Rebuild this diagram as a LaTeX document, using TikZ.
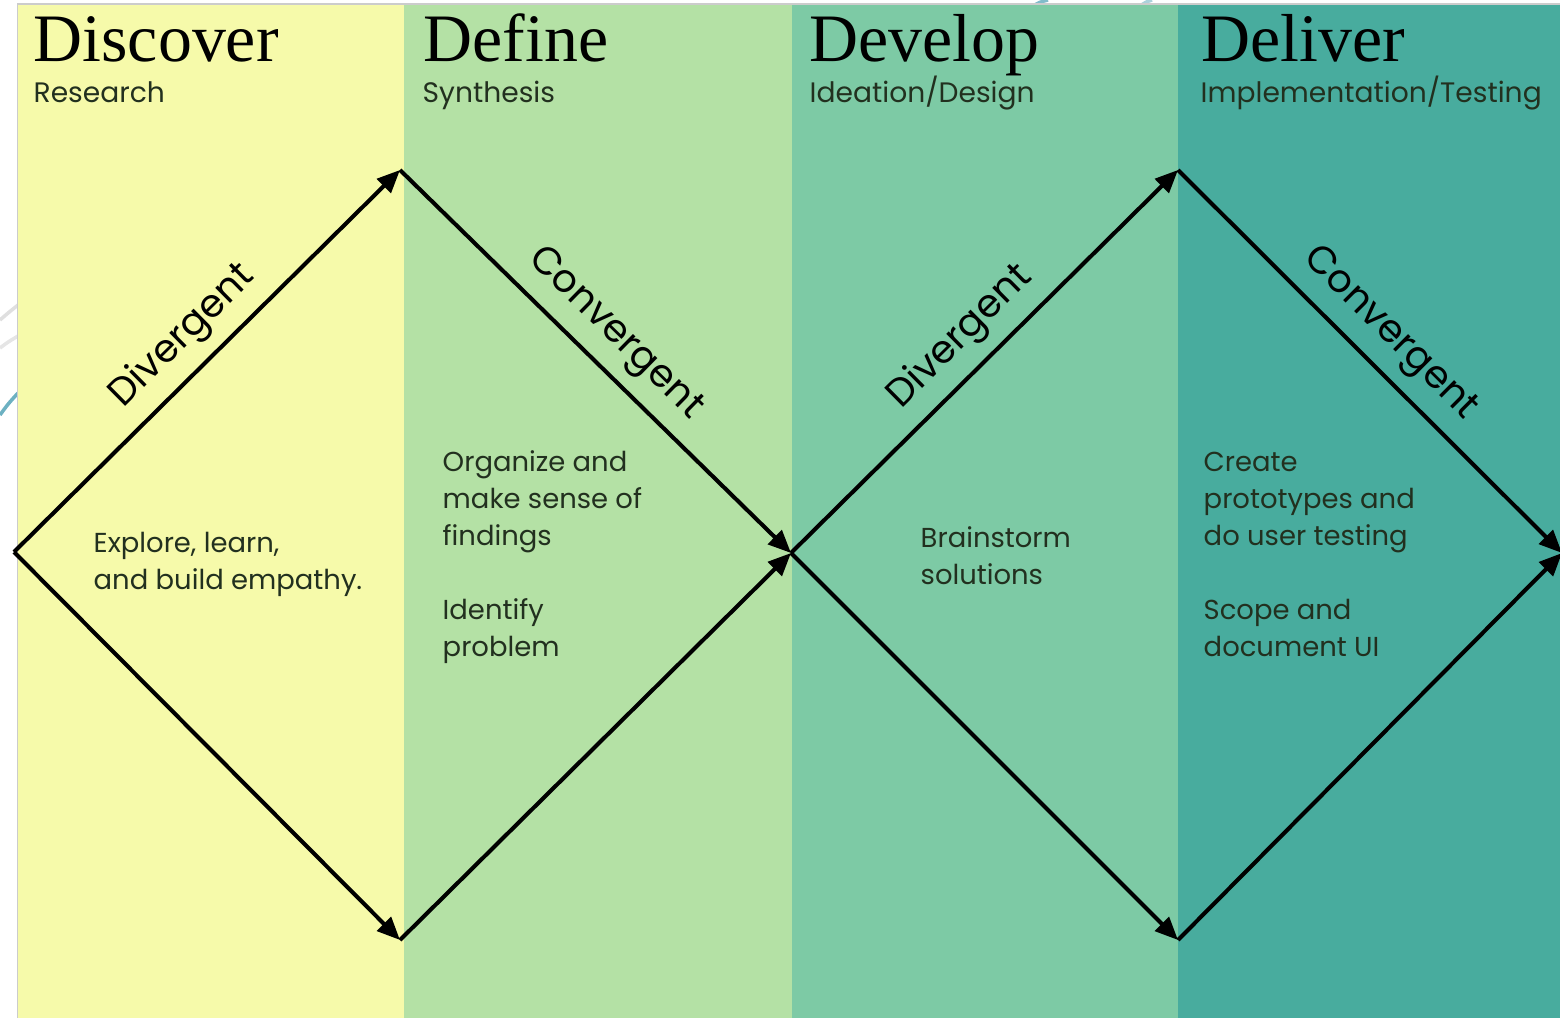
\documentclass[tikz,border=0pt]{standalone}
\usepackage{fontspec}
\setmainfont{Liberation Serif}
\newfontfamily\bodyfont{Poppins}
\usetikzlibrary{arrows.meta}

\definecolor{discovercol}{HTML}{F6FAAA}
\definecolor{definecol}{HTML}{B4E1A5}
\definecolor{developcol}{HTML}{7DCAA5}
\definecolor{delivercol}{HTML}{48AC9E}
\definecolor{inkcol}{HTML}{22301F}
\definecolor{swirlcol}{HTML}{2E8FA8}

\tikzset{
  phase/.style={anchor=base west, inner sep=0pt, font=\fontsize{19.3}{22}\selectfont},
  subphase/.style={anchor=base west, inner sep=0pt, text=inkcol, font=\bodyfont\fontsize{8}{9}\selectfont},
  notes/.style={anchor=base west, inner sep=0pt, align=left, text=inkcol, font=\bodyfont\fontsize{7.8}{10.5}\selectfont},
  flow/.style={line width=1.15pt, -{Triangle[length=6.5pt,width=5.5pt]}},
  mode/.style={sloped, above, midway, inner sep=3.5pt, font=\bodyfont\fontsize{11}{12}\selectfont}
}

\begin{document}
\begin{tikzpicture}[x=0.01cm, y=-0.01cm]
  \useasboundingbox (0,0) rectangle (1560,1018);
  \clip (0,0) rectangle (1560,1018);

  % bits of the slide background
  \draw[gray!25, line width=1pt] (0,320) .. controls (8,313) .. (18,305);
  \draw[gray!20, line width=1pt] (0,348) .. controls (8,342) .. (18,336);
  \draw[swirlcol!70, line width=1pt] (0,415) .. controls (8,404) .. (18,393);
  \draw[swirlcol!60, line width=1pt] (1033,6) .. controls (1040,2) .. (1048,0);
  \draw[swirlcol!40, line width=1pt] (1140,6) .. controls (1146,2) .. (1152,0);

  % columns
  \fill[discovercol] (18,4) rectangle (404,1018);
  \fill[definecol] (404,4) rectangle (792,1018);
  \fill[developcol] (792,4) rectangle (1178,1018);
  \fill[delivercol] (1178,4) rectangle (1560,1018);
  \draw[gray!40] (17.5,1018) -- (17.5,4) -- (1560,4);

  % headings
  \node[phase] (discover) at (33,61) {Discover};
  \node[subphase] (research) at (33,103) {Research};
  \node[phase] (define) at (423,61) {Define};
  \node[subphase] (synthesis) at (422,103) {Synthesis};
  \node[phase] (develop) at (809,61) {Develop};
  \node[subphase] (ideation) at (809,103) {Ideation/Design};
  \node[phase] (deliver) at (1201,61) {Deliver};
  \node[subphase] (implementation) at (1200,103) {Implementation/Testing};

  % notes (placed by the baseline of their last line)
  \node[notes] (explore) at (93,589) {Explore, learn,\\and build empathy.};
  \node[notes] (organize) at (442,656) {Organize and\\make sense of\\findings\\[10.5pt]Identify\\problem};
  \node[notes] (brainstorm) at (920,584) {Brainstorm\\solutions};
  \node[notes] (create) at (1203,656) {Create\\prototypes and\\do user testing\\[10.5pt]Scope and\\document UI};

  % double diamond
  \coordinate (left) at (14,552);
  \coordinate (top1) at (400,170);
  \coordinate (bottom1) at (400,940);
  \coordinate (mid) at (791,553);
  \coordinate (top2) at (1178,170);
  \coordinate (bottom2) at (1178,940);
  \coordinate (right) at (1562,553);

  \draw[flow] (left) -- node[mode] (div1) {Divergent} (top1);
  \draw[flow] (top1) -- node[mode, pos=0.49] (conv1) {Convergent} (mid);
  \draw[flow] (left) -- (bottom1);
  \draw[flow] (bottom1) -- (mid);
  \draw[flow] (mid) -- node[mode] (div2) {Divergent} (top2);
  \draw[flow] (top2) -- node[mode, pos=0.49] (conv2) {Convergent} (right);
  \draw[flow] (mid) -- (bottom2);
  \draw[flow] (bottom2) -- (right);
\end{tikzpicture}
\end{document}
